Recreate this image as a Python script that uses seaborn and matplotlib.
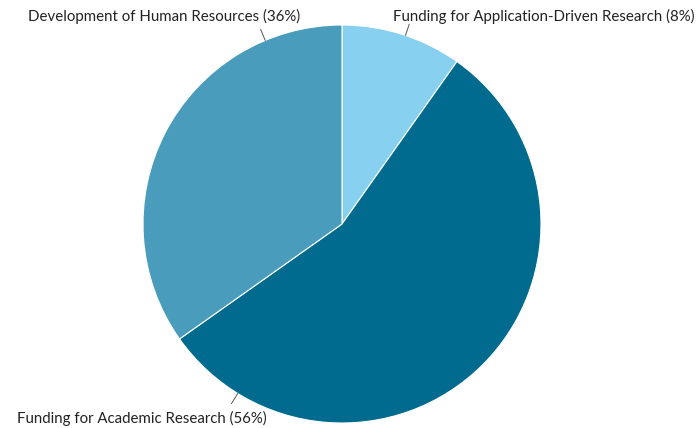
import numpy as np
import matplotlib
matplotlib.use("Agg")
import matplotlib.pyplot as plt
import seaborn as sns

# Data (slice sizes as drawn, labels as printed)
categories = ["Funding for Application-Driven Research",
              "Funding for Academic Research",
              "Development of Human Resources"]
label_pct = ["8%", "56%", "36%"]
values = [9.8, 55.4, 34.8]
colors = ["#87d0f0", "#006b8f", "#4a9cbc"]

sns.set_theme(style="white")
plt.rcParams["font.family"] = ["Lato", "DejaVu Sans"]

fig = plt.figure(figsize=(7, 4.28), dpi=100)
W, H = 700, 428
cx, cy, r = 342, 224, 199
ax = fig.add_axes([(cx - r) / W, (H - cy - r) / H, 2 * r / W, 2 * r / H])

ax.pie(values, colors=colors, startangle=90, counterclock=False,
       radius=1, wedgeprops=dict(edgecolor="white", linewidth=0.8))
ax.set_xlim(-1, 1)
ax.set_ylim(-1, 1)
ax.set_aspect("equal")
ax.axis("off")

# label placement: (leader angle in deg, text x px, text y px, ha)
placements = [(71.4, 393, 16, "left"),
              (238.4, 17, 418, "left"),
              (112.7, 300, 16, "right")]
for cat, pct, (ang, tx, ty, ha) in zip(categories, label_pct, placements):
    a = np.deg2rad(ang)
    ax.plot([np.cos(a), 1.06 * np.cos(a)], [np.sin(a), 1.06 * np.sin(a)],
            color="#555555", lw=0.7, clip_on=False)
    fig.text(tx / W, 1 - ty / H, f"{cat} ({pct})", ha=ha, va="center",
             fontsize=10.8, color="#222222")

fig.savefig("out.png", dpi=100)
